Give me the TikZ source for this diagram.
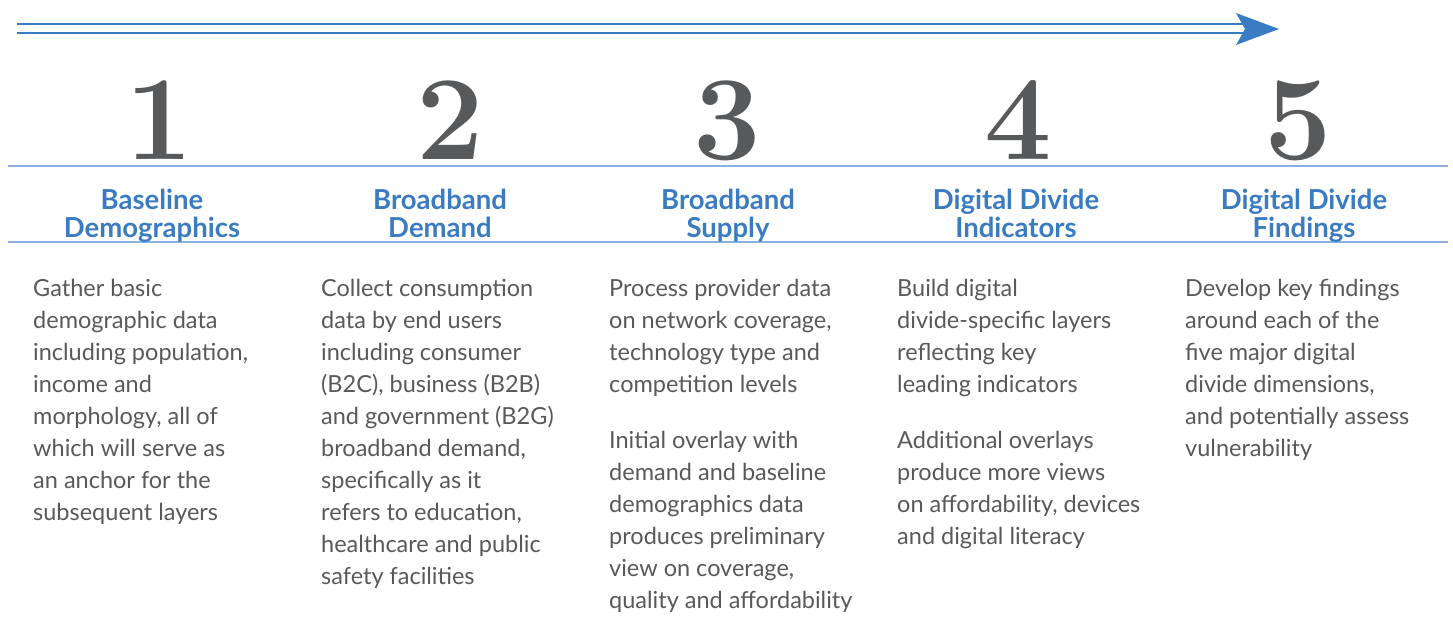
\documentclass[tikz,border=0pt]{standalone}
\usepackage{fontspec}
\setsansfont{Lato}
\usepackage{tikz}
\usetikzlibrary{positioning}
\definecolor{arrowblue}{HTML}{3A7CC3}
\definecolor{ruleblue}{HTML}{8AB2DE}
\definecolor{headblue}{HTML}{3B7BC0}
\definecolor{textgray}{HTML}{58595B}
\tikzset{
  stepnum/.style={anchor=base,inner sep=0pt,text=textgray,font=\fontsize{120}{120}\selectfont\bfseries},
  stephead/.style={anchor=north,inner sep=0pt,align=center,text=headblue,font=\sffamily\bfseries\fontsize{27.5}{28}\selectfont},
  stepbody/.style={anchor=north west,inner sep=0pt,align=left,text=textgray,font=\sffamily\fontsize{23.5}{32}\selectfont},
}

\begin{document}
\begin{tikzpicture}[x=1pt,y=-1pt]
    \useasboundingbox (0,0) rectangle (1453,624);
    % Top Arrow
    \coordinate (tailA) at (17,24);
    \coordinate (tailB) at (17,33);
    \coordinate (tip) at (1279,29);
    \draw[line width=2pt,arrowblue] (tailA) to (1244,24);
    \draw[line width=2pt,arrowblue] (tailB) to (1244,33);
    \fill[arrowblue] (1236,13) to (tip) to (1236,45) to (1245,29) -- cycle;
    % Rules
    \draw[line width=1.5pt,ruleblue] (8,166) to (1448,166);
    \draw[line width=1.5pt,ruleblue] (8,242) to (1448,242);
    % Numbers
    \node[stepnum] (num1) at (159,159) {1};
    \node[stepnum] (num2) at (450,159) {2};
    \node[stepnum] (num3) at (727,159) {3};
    \node[stepnum] (num4) at (1018,159) {4};
    \node[stepnum] (num5) at (1298,159) {5};
    % Headings
    \node[stephead] (head1) at (152,189) {Baseline\\Demographics};
    \node[stephead] (head2) at (440,189) {Broadband\\Demand};
    \node[stephead] (head3) at (728,189) {Broadband\\Supply};
    \node[stephead] (head4) at (1016,189) {Digital Divide\\Indicators};
    \node[stephead] (head5) at (1304,189) {Digital Divide\\Findings};
    % Descriptions
    \node[stepbody] (body1) at (33,279) {Gather basic\\demographic data\\including population,\\income and\\morphology, all of\\which will serve as\\an anchor for the\\subsequent layers};
    \node[stepbody] (body2) at (321,279) {Collect consumption\\data by end users\\including consumer\\(B2C), business (B2B)\\and government (B2G)\\broadband demand,\\specifically as it\\refers to education,\\healthcare and public\\safety facilities};
    \node[stepbody] (body3) at (609,279) {Process provider data\\on network coverage,\\technology type and\\competition levels\\[24pt]Initial overlay with\\demand and baseline\\demographics data\\produces preliminary\\view on coverage,\\quality and affordability};
    \node[stepbody] (body4) at (897,279) {Build digital\\divide-specific layers\\reflecting key\\leading indicators\\[24pt]Additional overlays\\produce more views\\on affordability, devices\\and digital literacy};
    \node[stepbody] (body5) at (1185,279) {Develop key findings\\around each of the\\five major digital\\divide dimensions,\\and potentially assess\\vulnerability};
\end{tikzpicture}
\end{document}
